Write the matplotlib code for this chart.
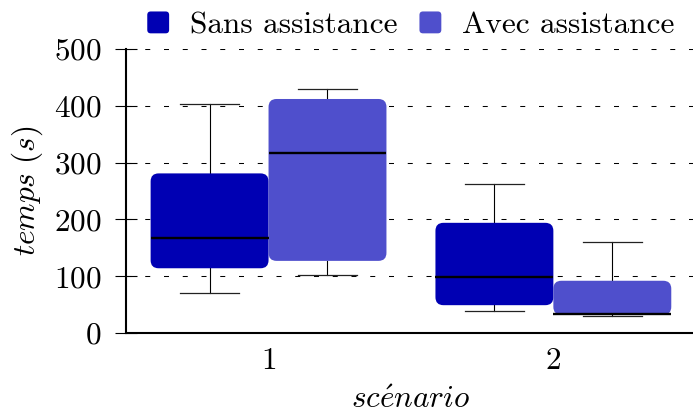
import numpy as np
import matplotlib
matplotlib.use("Agg")
import matplotlib.pyplot as plt
from matplotlib.patches import FancyBboxPatch, Patch
from matplotlib.legend_handler import HandlerPatch

# Box statistics per scenario (seconds)
scenarios = [1, 2]
series_names = ["Sans assistance", "Avec assistance"]
series_colors = ["#0000b3", "#4f4fcc"]

# [scenario 1, scenario 2]
sans_whislo = [71, 39]
sans_q1 = [114, 49]
sans_med = [168, 99]
sans_q3 = [281, 194]
sans_whishi = [403, 262]

avec_whislo = [102, 30]
avec_q1 = [127, 32]
avec_med = [317, 34]
avec_q3 = [412, 92]
avec_whishi = [429, 161]

series_stats = [
    (sans_whislo, sans_q1, sans_med, sans_q3, sans_whishi),
    (avec_whislo, avec_q1, avec_med, avec_q3, avec_whishi),
]

plt.rcParams["font.family"] = "cmr10"
plt.rcParams["mathtext.fontset"] = "cm"
plt.rcParams["axes.formatter.use_mathtext"] = True
plt.rcParams["font.size"] = 22.5

fig = plt.figure(figsize=(6.93, 4.17), dpi=100)
ax = fig.add_axes([0.182, 0.2014, 0.822, 0.6811])

box_w = 0.414
offsets = [-box_w / 2, box_w / 2]
ymax = 500
xlo, xhi = 0.5, 2.5
ax.set_xlim(xlo, xhi)
ax.set_ylim(0, ymax)

# aspect between data units in y and x (per pixel) for round corners
bbox = ax.get_position()
fig_w, fig_h = fig.get_size_inches() * fig.dpi
x_per_px = (xhi - xlo) / (bbox.width * fig_w)
y_per_px = ymax / (bbox.height * fig_h)
aspect = y_per_px / x_per_px
radius = 8 * x_per_px

for k, (whislo, q1, med, q3, whishi) in enumerate(series_stats):
    stats = []
    for i in range(len(scenarios)):
        stats.append(dict(whislo=whislo[i], q1=q1[i], med=med[i], q3=q3[i],
                          whishi=whishi[i], fliers=[]))
    pos = [s + offsets[k] for s in scenarios]
    ax.bxp(stats, positions=pos, widths=box_w, showbox=False, showfliers=False,
           manage_ticks=False,
           whiskerprops=dict(color="black", lw=0.8),
           capprops=dict(color="#222222", lw=0.9),
           medianprops=dict(color="black", lw=1.7, zorder=4),
           capwidths=box_w / 2)
    for i, p in enumerate(pos):
        box = FancyBboxPatch((p - box_w / 2, q1[i]), box_w, q3[i] - q1[i],
                             boxstyle="round,pad=0,rounding_size=%f" % radius,
                             mutation_aspect=aspect,
                             facecolor=series_colors[k], edgecolor="none",
                             zorder=3)
        ax.add_patch(box)

# Axes styling
ax.set_yticks(np.arange(0, 501, 100))
ax.set_xticks(scenarios)
ax.yaxis.grid(True, color="black", lw=0.75, linestyle=(0, (4.8, 13.2)))
ax.set_axisbelow(True)
for side in ["top", "right"]:
    ax.spines[side].set_visible(False)
ax.spines["left"].set_linewidth(1.5)
ax.spines["bottom"].set_linewidth(1.5)
ax.tick_params(axis="y", direction="inout", length=16, width=0.8, pad=10)
ax.tick_params(axis="x", length=0, pad=10)

ax.set_ylabel(r"$\mathit{temps\ (s)}$", labelpad=6)
ax.set_xlabel(r"$\mathit{sc\acute{e}nario}$", labelpad=8)


def rounded_handle(legend, orig_handle, xdescent, ydescent, width, height, fontsize):
    return FancyBboxPatch((-xdescent, -ydescent), width, height,
                          boxstyle="round,pad=0,rounding_size=2.5")


handles = [Patch(facecolor=c, edgecolor="none", label=n)
           for c, n in zip(series_colors, series_names)]
ax.legend(handles=handles, loc="lower center", bbox_to_anchor=(0.5, 0.99),
          ncol=2, frameon=False, handlelength=0.70, handleheight=0.70,
          handletextpad=0.67, columnspacing=0.7, borderaxespad=0,
          handler_map={Patch: HandlerPatch(patch_func=rounded_handle)})

fig.savefig("out.png", dpi=100)
